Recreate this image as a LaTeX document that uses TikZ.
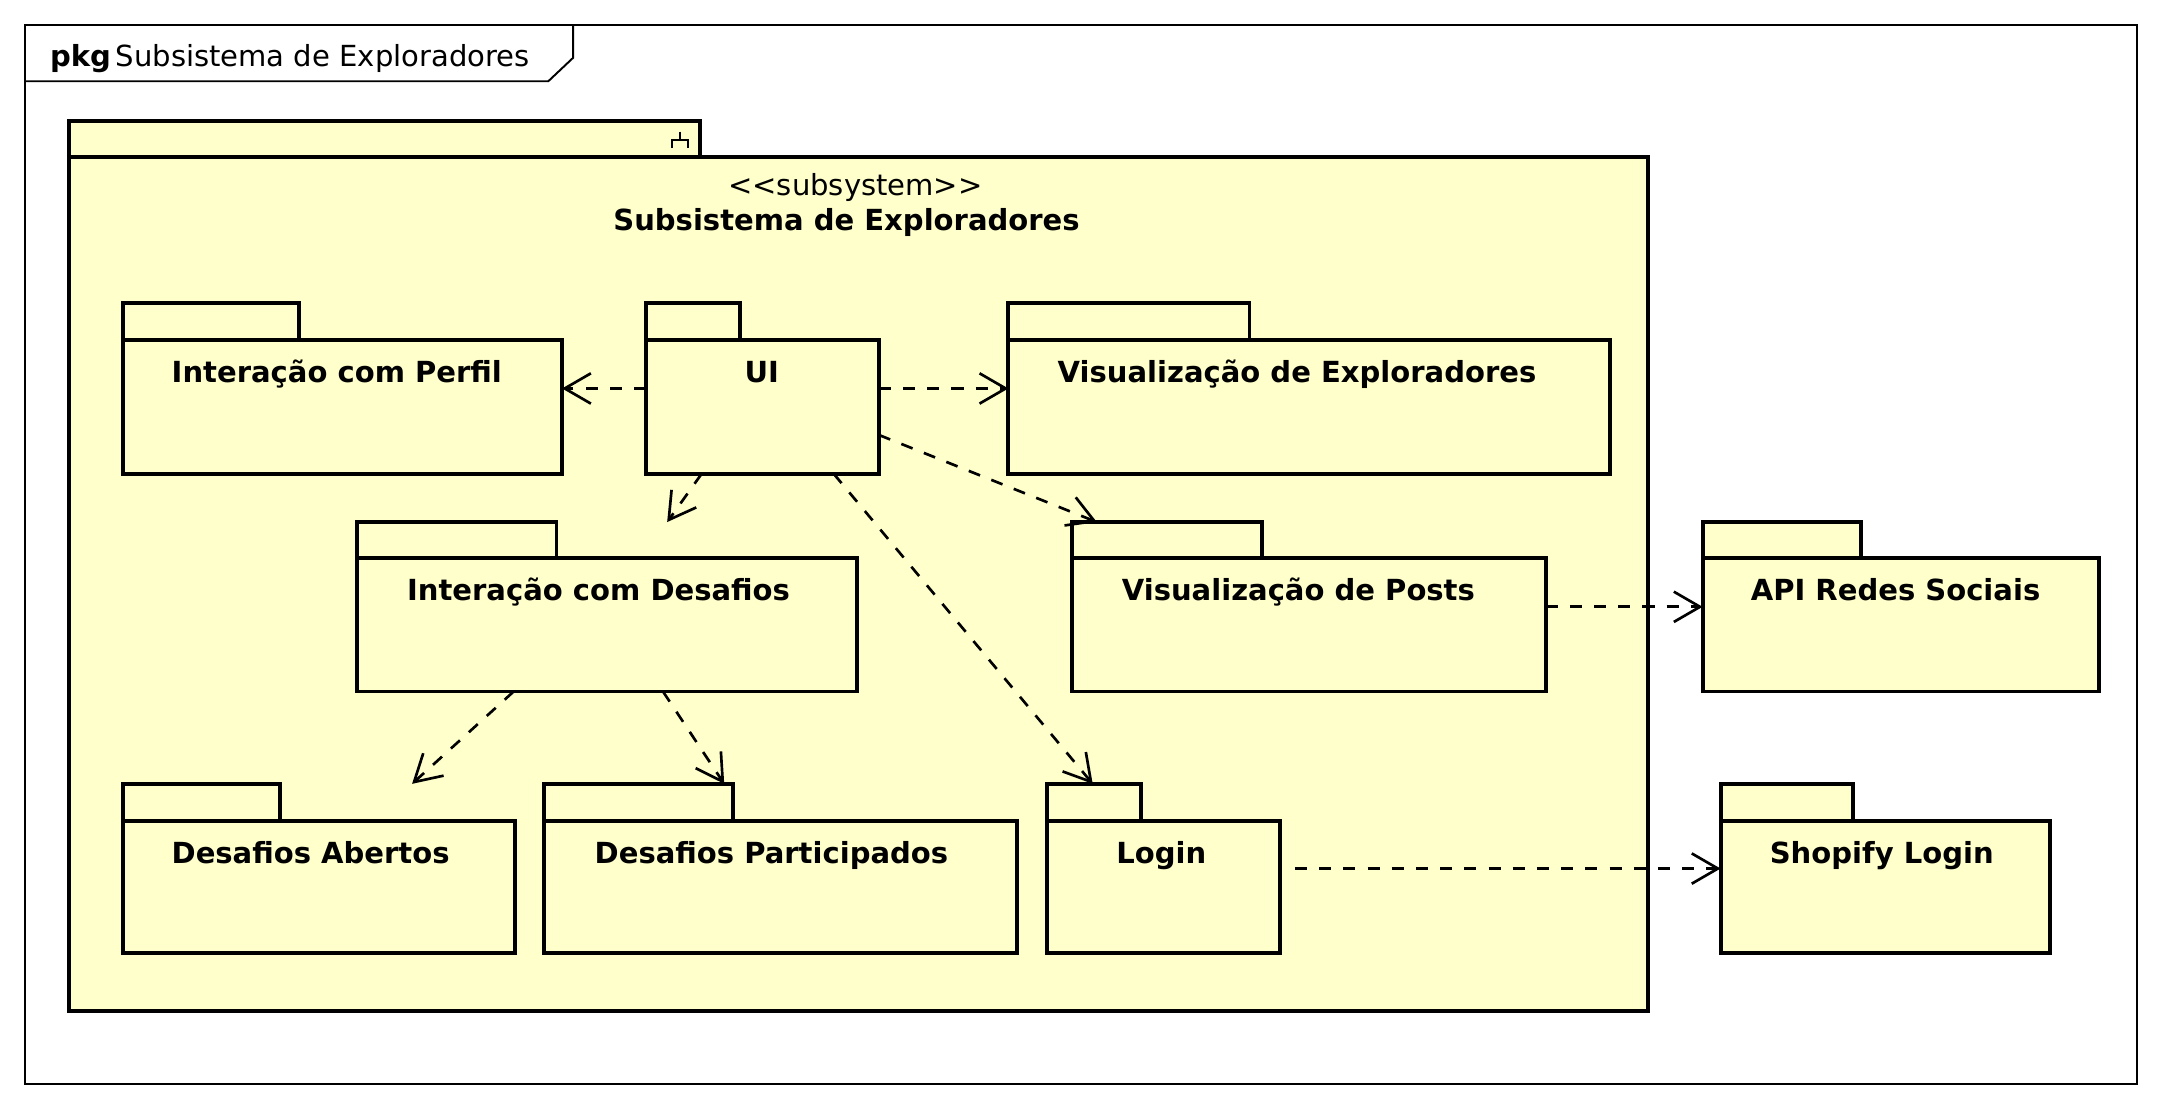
\documentclass[12pt,tikz,border=0pt]{standalone}
\usepackage{fontspec}
\setmainfont{DejaVu Sans}
\usetikzlibrary{arrows.meta,fit}
\definecolor{pkgfill}{RGB}{255,255,204}

\begin{document}
\begin{tikzpicture}[x=0.02cm,y=-0.02cm,
  frame/.style={line width=0.8pt},
  pkg/.style={draw=black, fill=pkgfill, line width=1.6pt},
  pkgname/.style={font=\bfseries, anchor=base, inner sep=0pt},
  pkgarea/.style={inner sep=0pt, outer sep=0pt},
  dep/.style={line width=1.1pt, dash pattern=on 5pt off 5pt, -{Straight Barb[length=0.38cm,width=0.44cm]}}]
\useasboundingbox (0,0) rectangle (1568,804.3);
% diagram frame
\draw[frame] (18,18) rectangle (1551,787);
\draw[frame] (18,59) -- (398,59) -- (416,42) -- (416,18);
\node[anchor=base west, inner sep=0pt] (title) at (36,48) {\textbf{pkg}\kern2pt Subsistema de Exploradores};
% subsystem
\draw[pkg] (50,88) rectangle (508,114);
\draw[pkg] (50,114) rectangle (1196,734);
\draw[line width=0.8pt] (493.5,95.5) -- (493.5,101.5) (487.5,107.5) -- (487.5,101.5) -- (499.5,101.5) -- (499.5,107.5);
\node[anchor=base, inner sep=0pt] (stereo) at (621,142) {<\kern0pt<subsystem>\kern0pt>};
\node[anchor=base, font=\bfseries, inner sep=0pt] (subname) at (614.5,167) {Subsistema de Exploradores};
% Interação com Perfil
\draw[pkg] (89,220) rectangle (217,247);
\draw[pkg] (89,247) rectangle (408,344);
\node[pkgarea, fit={(89,220) (408,344)}] (perfil) {};
\node[pkgname] (perfil-name) at (244.5,278) {Interação com Perfil};
% UI
\draw[pkg] (469,220) rectangle (537,247);
\draw[pkg] (469,247) rectangle (638,344);
\node[pkgarea, fit={(469,220) (638,344)}] (ui) {};
\node[pkgname] (ui-name) at (553,278) {UI};
% Visualização de Exploradores
\draw[pkg] (732,220) rectangle (907,247);
\draw[pkg] (732,247) rectangle (1169,344);
\node[pkgarea, fit={(732,220) (1169,344)}] (visexp) {};
\node[pkgname] (visexp-name) at (941.5,278) {Visualização de Exploradores};
% Interação com Desafios
\draw[pkg] (259,379) rectangle (404,405);
\draw[pkg] (259,405) rectangle (622,502);
\node[pkgarea, fit={(259,379) (622,502)}] (desafios) {};
\node[pkgname] (desafios-name) at (434.5,436) {Interação com Desafios};
% Visualização de Posts
\draw[pkg] (778,379) rectangle (916,405);
\draw[pkg] (778,405) rectangle (1122,502);
\node[pkgarea, fit={(778,379) (1122,502)}] (posts) {};
\node[pkgname] (posts-name) at (942.5,436) {Visualização de Posts};
% Desafios Abertos
\draw[pkg] (89,569) rectangle (203,596);
\draw[pkg] (89,596) rectangle (374,692);
\node[pkgarea, fit={(89,569) (374,692)}] (abertos) {};
\node[pkgname] (abertos-name) at (225.5,627) {Desafios Abertos};
% Desafios Participados
\draw[pkg] (395,569) rectangle (532,596);
\draw[pkg] (395,596) rectangle (738,692);
\node[pkgarea, fit={(395,569) (738,692)}] (particip) {};
\node[pkgname] (particip-name) at (560,627) {Desafios Participados};
% Login
\draw[pkg] (760,569) rectangle (828,596);
\draw[pkg] (760,596) rectangle (929,692);
\node[pkgarea, fit={(760,569) (929,692)}] (login) {};
\node[pkgname] (login-name) at (843,627) {Login};
% outside the subsystem
\draw[pkg] (1236,379) rectangle (1351,405);
\draw[pkg] (1236,405) rectangle (1524,502);
\node[pkgarea, fit={(1236,379) (1524,502)}] (api) {};
\node[pkgname] (api-name) at (1376,436) {API Redes Sociais};
\draw[pkg] (1249,569) rectangle (1345,596);
\draw[pkg] (1249,596) rectangle (1488,692);
\node[pkgarea, fit={(1249,569) (1488,692)}] (shopify) {};
\node[pkgname] (shopify-name) at (1366,627) {Shopify Login};
% dependencies
\draw[dep] (ui) -- (perfil);
\draw[dep] (ui) -- (visexp);
\draw[dep] (ui) -- (posts);
\draw[dep] (ui) -- (desafios);
\draw[dep] (ui) -- (login);
\draw[dep] (desafios) -- (abertos);
\draw[dep] (desafios) -- (particip);
\draw[dep] (posts) -- (api);
\draw[dep, shorten <=0.22cm] (login) -- (shopify);
\end{tikzpicture}
\end{document}
